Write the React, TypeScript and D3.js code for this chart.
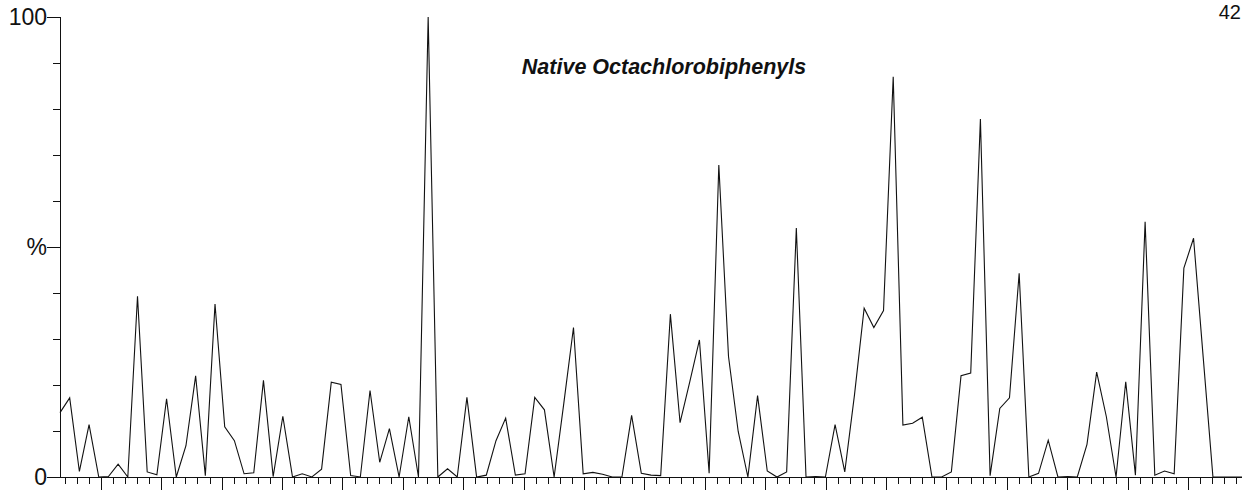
import { useEffect, useRef } from 'react';
import * as d3 from 'd3';

// relative intensity per scan (%)
const intensity = [
  14.0, 17.2, 1.2, 11.4, 0, 0.1, 2.8, 0, 39.3, 1.1,
  0.5, 17.0, 0, 6.8, 22.0, 0.3, 37.6, 10.9, 7.9, 0.7,
  0.9, 21.0, 0.1, 13.2, 0, 0.7, 0, 1.7, 20.6, 20.1,
  0.3, 0, 18.8, 3.2, 10.5, 0, 13.1, 0, 100, 0,
  1.8, 0, 17.3, 0, 0.4, 7.9, 12.8, 0.4, 0.7, 17.3,
  14.6, 0, 16.0, 32.5, 0.7, 1.0, 0.6, 0, 0, 13.4,
  0.8, 0.4, 0.3, 35.4, 11.8, 20.7, 29.8, 0.8, 67.8, 26.2,
  9.9, 0, 17.7, 1.3, 0, 1.1, 54.1, 0, 0.1, 0,
  11.4, 1.1, 17.8, 36.7, 32.5, 36.2, 87.0, 11.3, 11.7, 13.0,
  0, 0, 1.1, 22.0, 22.6, 77.8, 0.3, 14.9, 17.2, 44.3,
  0, 0.8, 8.0, 0, 0.1, 0, 7.1, 22.8, 13.1, 0,
  20.7, 0.4, 55.5, 0.4, 1.3, 0.7, 45.4, 51.9, 25.9, 0,
  0, 0, 0,
];

const yLabelValues = [0, 50, 100];
const yLabelTexts = ['0', '%', '100'];
const title = 'Native Octachlorobiphenyls';
const panelNumber = '42';

// time axis (arbitrary units): ticks every unit, long tick every 5
const timeDomain = [1.62, 99.47];

const W = 1242;
const H = 490;
const FONT = '"Liberation Sans", Arial, Helvetica, sans-serif';
const INK = '#111';

export default function App() {
  const svgRef = useRef<SVGSVGElement>(null);

  useEffect(() => {
    if (!svgRef.current) return;
    const svg = d3.select(svgRef.current);
    svg.selectAll('*').remove();

    const left = 60;
    const right = W;
    const top = 17;
    const bottom = 477;

    const x = d3.scaleLinear().domain([0, intensity.length - 1]).range([left, right]);
    const xt = d3.scaleLinear().domain(timeDomain).range([left, right]);
    const y = d3.scaleLinear().domain([0, 100]).range([bottom, top]);

    // y axis
    svg.append('line')
      .attr('x1', left + 0.5).attr('x2', left + 0.5)
      .attr('y1', y(100)).attr('y2', y(0))
      .attr('stroke', INK).attr('stroke-width', 1);

    svg.append('g')
      .selectAll('line')
      .data(d3.range(0, 101, 10))
      .enter()
      .append('line')
      .attr('x1', d => (yLabelValues.includes(d) ? left - 13 : left - 7))
      .attr('x2', left + 0.5)
      .attr('y1', d => Math.round(y(d)) + 0.5)
      .attr('y2', d => Math.round(y(d)) + 0.5)
      .attr('stroke', INK).attr('stroke-width', 1);

    svg.append('g')
      .selectAll('text')
      .data(yLabelValues)
      .enter()
      .append('text')
      .attr('x', left - 13)
      .attr('y', d => y(d))
      .attr('dy', '0.36em')
      .attr('text-anchor', 'end')
      .attr('font-family', FONT)
      .attr('font-size', 23)
      .attr('fill', INK)
      .text((d, i) => yLabelTexts[i]);

    // x axis
    svg.append('line')
      .attr('x1', left).attr('x2', right)
      .attr('y1', bottom + 0.5).attr('y2', bottom + 0.5)
      .attr('stroke', INK).attr('stroke-width', 1);

    const ticks = d3.range(Math.ceil(timeDomain[0]), Math.floor(timeDomain[1]) + 1);
    svg.append('g')
      .selectAll('line')
      .data(ticks)
      .enter()
      .append('line')
      .attr('x1', d => Math.round(xt(d)) + 0.5)
      .attr('x2', d => Math.round(xt(d)) + 0.5)
      .attr('y1', bottom)
      .attr('y2', d => bottom + (d % 5 === 0 ? 13 : 7))
      .attr('stroke', INK).attr('stroke-width', 1);

    // trace
    const line = d3.line<number>()
      .x((d, i) => x(i))
      .y(d => y(d));

    svg.append('path')
      .datum(intensity)
      .attr('d', line)
      .attr('fill', 'none')
      .attr('stroke', INK)
      .attr('stroke-width', 1.1)
      .attr('stroke-linejoin', 'miter');

    // title
    svg.append('text')
      .attr('x', 664)
      .attr('y', 74)
      .attr('text-anchor', 'middle')
      .attr('font-family', FONT)
      .attr('font-size', 21.5)
      .attr('font-weight', 'bold')
      .attr('font-style', 'italic')
      .attr('fill', INK)
      .text(title);

    svg.append('text')
      .attr('x', W - 1)
      .attr('y', 19)
      .attr('text-anchor', 'end')
      .attr('font-family', FONT)
      .attr('font-size', 20)
      .attr('fill', INK)
      .text(panelNumber);
  }, []);

  return (
    <svg
      ref={svgRef}
      width={W}
      height={H}
      style={{ position: 'absolute', left: 0, top: 0, background: '#fff' }}
    />
  );
}
